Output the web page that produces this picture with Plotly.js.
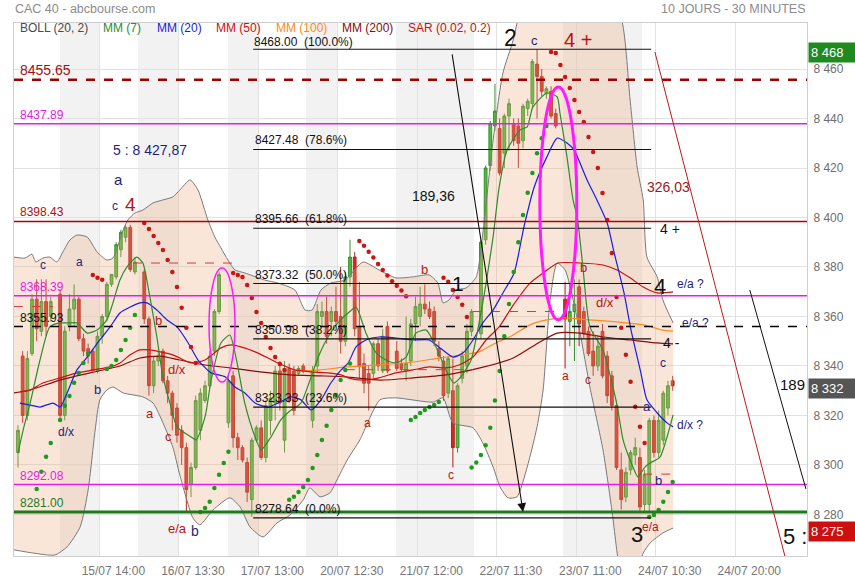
<!DOCTYPE html>
<html><head><meta charset="utf-8">
<script src="https://cdn.plot.ly/plotly-3.0.1.min.js"></script>
<style>html,body{margin:0;padding:0;background:#fff}#chart{width:855px;height:580px}</style>
</head><body><div id="chart"></div>
<script>
// ---------- DATA (30-minute slots, slot 0 = first visible bar) ----------
const open = [8305,8344,8320,8345,8367,8354,8366,8360,null,8369,
8320,8356,8363,8367,8351,8347,8346,8338,8352,8360,
8373,8376,8387,8392,8396,8378,null,8378,8359,8332,
8342,8346,8334,8329,8323,8314,8307,8292,8299,8314,
8326,8332,8346,8362,null,8317,8336,8311,8307,8301,
8286,8310,8315,8303,8318,8325,8338,8310,8339,8338,
8337,8340,null,8318,8340,8360,8362,8358,8362,8360,
8350,8376,8384,8356,8341,8337,8337,8349,8338,8356,
null,8346,8341,8338,8342,8357,8360,8365,8363,8362,
8347,8342,8329,8330,8307,8335,8340,8354,null,8353,
8391,8421,8437,8436,8426,8441,8438,8437,8431,8444,
8446,8462,8457,8450,8451,8442,null,8367,8358,8362,
8372,8362,8354,8346,8340,8354,8344,8336,8324,8298,
8287,8298,8304,8303,8284,8284,8318,8305,8310,8323,8334];
const high = [8316,8346,8346,8369,8375,8375,8375,8368,null,8371,
8356,8369,8373,8368,8353,8349,8347,8354,8361,8374,
8377,8390,8395,8397,8397,8384,null,8379,8360,8344,
8346,8347,8336,8330,8325,8316,8309,8301,8328,8331,
8334,8346,8363,8378,null,8337,8338,8313,8308,8303,
8311,8316,8318,8326,8330,8340,8342,8342,8341,8340,
8340,8341,null,8340,8365,8366,8368,8364,8372,8380,
8378,8391,8386,8374,8345,8340,8350,8351,8355,8358,
null,8350,8343,8360,8359,8368,8372,8373,8366,8364,
8350,8344,8344,8343,8333,8346,8357,8363,null,8391,
8421,8439,8454,8440,8442,8448,8440,8440,8446,8448,
8464,8468,8460,8453,8453,8444,null,8374,8373,8375,
8375,8364,8356,8354,8352,8357,8346,8338,8326,8305,
8299,8306,8311,8307,8298,8319,8320,8322,8330,8334,8336];
const low = [8299,8317,8318,8344,8350,8352,8352,8358,null,8318,
8318,8354,8356,8350,8344,8341,8338,8337,8349,8358,
8372,8375,8384,8390,8378,8377,null,8357,8328,8329,
8340,8333,8325,8314,8309,8300,8281,8287,8298,8310,
8325,8331,8344,8361,null,8315,8307,8302,8301,8285,
8279,8309,8302,8301,8312,8318,8322,8305,8325,8320,
8336,8337,null,8315,8337,8356,8349,8352,8356,8345,
8348,8372,8352,8335,8329,8322,8335,8338,8337,8337,
null,8338,8338,8334,8340,8350,8356,8361,8359,8348,
8342,8326,8327,8299,8305,8333,8337,8352,null,8351,
8389,8419,8435,8417,8420,8427,8429,8420,8428,8441,
8444,8440,8449,8448,8440,8436,null,8339,8348,8342,
8348,8351,8344,8336,8338,8335,8325,8322,8298,8282,
8285,8296,8300,8281,8281,8281,8303,8303,8308,8320,8330];
const close = [8314,8320,8343,8367,8355,8366,8356,8366,null,8320,
8354,8363,8367,8351,8346,8344,8338,8352,8360,8373,
8377,8389,8394,8396,8379,8382,null,8359,8332,8342,
8344,8334,8329,8320,8312,8307,8290,8299,8326,8329,
8332,8344,8362,8377,null,8334,8311,8307,8302,8289,
8310,8315,8303,8324,8327,8338,8325,8339,8326,8322,
8339,8338,null,8338,8362,8362,8352,8362,8358,8350,
8376,8384,8355,8340,8333,8333,8349,8340,8352,8338,
null,8339,8339,8341,8357,8364,8365,8363,8360,8350,
8344,8328,8343,8307,8332,8344,8354,8362,null,8390,
8420,8438,8443,8418,8441,8446,8431,8430,8445,8447,
8463,8457,8451,8452,8441,8437,null,8359,8362,8365,
8357,8353,8345,8340,8348,8336,8328,8324,8299,8286,
8297,8305,8307,8283,8296,8318,8305,8318,8329,8332,8332];

// x-axis time labels and their slot positions
const timeLabels = ['15/07 14:00','16/07 13:30','17/07 13:00','20/07 12:30','21/07 12:00','22/07 11:30','23/07 11:00','24/07 10:30','24/07 20:00'];
const timeSlots = [17.4,34.4,51.4,68.4,85.4,102.4,119.4,136.4,153.4];
const priceTicks = [8280,8300,8320,8340,8360,8380,8400,8420,8440,8460];

// Bollinger (20,2)
const bbUpK = [-0.9,1.5,3.0,3.8,5.3,6.8,8.3,9.6,11.1,12.6,14.8,16.9,19.0,20.3,22.5,23.5,25.0,26.7,28.9,31.0,33.1,34.6,36.8,38.5,40.6,42.1,43.4,44.9,46.4,48.5,52.8,55.6,59.2,61.4,62.9,64.8,66.9,69.9,73.8,77.2,80.8,84.5,87.9,89.8,90.9,92.2,93.7,95.8,98.0,99.4,101.6,103.7,105.9,108.4,112.7,119.1,124.5,129.2,130.9,132.4,133.7,134.5,136.7,137.9,140.1];
const bbUpV = [8384.0,8383.6,8385.2,8382.0,8383.6,8384.0,8382.0,8386.1,8390.9,8392.9,8392.1,8386.1,8382.8,8383.6,8395.0,8399.0,8401.8,8403.0,8405.9,8407.1,8408.3,8411.1,8415.2,8411.1,8399.0,8392.1,8387.7,8382.8,8378.8,8377.6,8374.7,8373.5,8370.7,8362.6,8362.6,8370.7,8373.5,8374.7,8382.0,8378.8,8375.6,8376.0,8376.8,8373.5,8365.5,8366.7,8370.7,8371.5,8376.0,8393.7,8431.3,8458.4,8471.7,8491.9,8508.1,8508.1,8500.0,8479.0,8447.5,8420.4,8407.1,8384.0,8376.0,8366.7,8357.4];
const bbLoK = [-0.9,3.2,7.9,10.5,13.3,15.0,16.5,17.5,19.0,20.3,22.5,26.7,28.9,31.0,33.1,34.6,37.4,38.9,41.7,45.3,47.5,49.6,52.4,55.4,58.2,61.0,62.4,64.6,66.7,68.2,70.4,73.1,77.4,80.8,88.8,90.9,93.0,97.3,99.4,101.6,103.1,104.8,106.7,108.9,111.0,112.3,113.8,115.3,117.0,118.1,120.2,122.3,125.1,127.0,128.7,130.9,133.7,135.2,137.9,140.1];
const bbLoV = [8265.7,8264.4,8263.6,8266.9,8275.0,8289.9,8314.1,8326.3,8330.3,8331.5,8329.1,8327.5,8325.0,8317.0,8307.3,8296.0,8278.6,8275.8,8281.8,8286.7,8283.0,8275.0,8270.9,8276.6,8279.8,8285.9,8290.7,8287.1,8288.7,8293.9,8302.0,8310.1,8326.3,8327.1,8325.4,8327.1,8317.0,8315.0,8308.9,8299.2,8291.1,8286.7,8287.1,8299.2,8315.4,8330.3,8366.7,8381.6,8378.8,8371.9,8353.3,8331.5,8306.1,8281.8,8257.6,8245.5,8264.4,8268.5,8272.5,8274.5];

// Moving averages
const mm7K = [0,1.1,2.6,4.7,6.8,9.0,10.7,12.6,14.8,16.9,19.0,20.3,21.8,23.3,25.4,26.7,28.2,29.7,31.0,32.5,34.0,37.0,38.1,40.0,41.3,43.4,45.3,46.6,48.5,50.7,52.0,54.1,56.2,58.4,60.5,62.7,64.2,66.3,68.4,70.6,72.3,74.4,76.6,78.7,80.8,83.0,85.1,87.3,89.4,91.5,93.2,94.7,96.9,98.6,100.1,101.6,102.9,104.6,107.4,108.9,110.1,113.1,115.3,115.9,117.4,118.7,119.6,120.8,122.3,125.1,126.6,128.1,129.4,130.9,132.6,134.1,135.2,137.3,138.8,140.1];
const mm7V = [8304.8,8314.1,8325.0,8342.4,8355.8,8357.4,8357.4,8357.4,8353.3,8354.5,8358.6,8365.5,8374.7,8380.0,8384.0,8381.6,8367.9,8351.7,8335.6,8325.0,8315.4,8311.3,8310.1,8319.4,8334.3,8349.3,8352.5,8343.6,8325.0,8311.3,8306.1,8311.3,8318.2,8322.2,8325.0,8335.6,8343.6,8351.7,8357.4,8361.4,8363.8,8353.3,8345.3,8342.4,8341.2,8343.6,8353.3,8354.5,8347.7,8338.4,8333.1,8335.6,8342.4,8357.4,8373.5,8392.1,8412.3,8427.3,8435.4,8436.6,8444.6,8450.3,8448.7,8442.2,8424.5,8407.1,8400.2,8380.0,8355.8,8346.5,8336.4,8324.2,8310.1,8302.0,8295.2,8299.2,8300.8,8303.2,8311.3,8320.2];
const mm20K = [0.4,2.6,4.7,7.5,9.0,10.5,12.6,14.8,17.5,19.7,21.8,24.0,26.1,27.6,29.7,31.9,34.0,36.4,38.5,41.3,44.3,46.4,48.5,50.7,53.5,55.6,58.4,60.5,62.7,64.8,66.9,69.1,70.6,72.3,74.4,77.2,80.8,84.5,87.9,90.0,93.0,95.2,97.3,99.4,101.6,103.7,106.1,108.2,110.4,113.1,115.3,117.4,118.9,121.7,123.8,126.0,127.5,129.6,131.1,133.2,134.5,136.7,138.8,140.1];
const mm20V = [8325.0,8324.2,8323.4,8325.0,8323.4,8329.1,8338.4,8343.6,8350.5,8355.8,8361.4,8363.8,8365.5,8365.5,8362.6,8358.6,8355.8,8349.3,8342.4,8337.2,8335.6,8331.5,8329.1,8325.0,8323.4,8325.0,8327.5,8326.3,8322.2,8326.3,8333.1,8338.4,8341.2,8347.7,8350.5,8351.7,8351.3,8350.5,8350.5,8347.7,8343.6,8345.3,8350.5,8357.4,8362.6,8369.5,8377.6,8396.2,8412.3,8424.5,8432.1,8430.1,8427.3,8415.2,8407.1,8397.8,8385.7,8369.5,8354.5,8337.2,8326.3,8321.0,8317.0,8315.4];
const mm50K = [0.4,2.6,5.3,9.0,12.6,16.0,19.7,21.8,24.0,26.1,28.2,30.4,33.1,34.6,37.0,40.0,43.4,45.6,47.7,50.7,53.5,55.6,59.2,62.7,66.3,69.1,70.6,73.8,77.2,80.8,84.5,87.9,91.5,94.3,97.3,100.1,102.9,105.9,109.5,112.3,115.5,120.2,125.1,128.1,130.9,133.7,136.7,140.1];
const mm50V = [8329.5,8330.3,8333.1,8335.2,8337.2,8338.4,8339.6,8341.2,8344.5,8346.5,8346.5,8345.7,8344.5,8343.2,8341.2,8342.4,8347.3,8348.5,8347.7,8345.7,8343.2,8341.2,8338.4,8337.6,8337.2,8336.4,8335.2,8334.3,8335.2,8337.2,8338.4,8339.6,8339.2,8340.4,8343.6,8350.5,8355.8,8364.6,8373.5,8377.6,8381.6,8381.6,8380.8,8378.8,8375.6,8371.9,8369.5,8369.9];
const mm100K = [60.5,64.6,70.1,77.2,84.5,90.0,95.2,98.6,102.2,105.9,109.5,113.1,116.6,122.3,128.1,133.7,137.9,140.1];
const mm100V = [8338.0,8338.4,8339.6,8340.4,8341.6,8343.2,8344.5,8345.7,8349.3,8352.5,8356.6,8358.6,8359.4,8358.6,8357.8,8356.6,8354.5,8354.1];
const mm200K = [-0.9,2.6,9.0,15.4,21.8,26.1,30.4,34.6,40.0,45.3,51.8,58.2,64.6,70.1,77.4,84.5,91.5,98.8,105.9,111.6,115.3,120.2,125.1,130.9,136.7,140.1];
const mm200V = [8329.1,8330.3,8334.3,8337.2,8340.0,8343.2,8344.0,8342.4,8340.4,8339.2,8337.6,8336.4,8336.0,8335.6,8334.3,8335.2,8336.4,8339.2,8343.2,8349.7,8353.3,8353.3,8351.7,8350.5,8349.3,8348.9];

// Parabolic SAR (0.02, 0.2)
const sarBelowK = [4,5,6,7, 9,10,11,12,13,14,15, 19,20,21,22,23,24,25, 39,40,41,42,43,44,45,
  58,59,60,61,62,63,64,65,66,67,68,69,70,71, 84,85,86,87,88,89,90,
  97,98,99,100,101,102,103,104,105,106,107,108,109,110,111,112,113, 135,136,137,138,139,140];
const sarBelowV = [8290.3,8297.2,8303.3,8308.9, 8318.2,8323.9,8327.9,8333.2,8337.2,8341.2,8344.9,
  8338.8,8340.0,8342.4,8346.5,8350.5,8355.4,8360.6, 8281.0,8282.6,8285.1,8290.7,8296.0,8300.8,8305.3,
  8285.9,8287.1,8289.1,8291.1,8293.9,8298.8,8304.0,8310.1,8315.8,8322.2,8328.3,8334.3,8338.4,8341.0,
  8318.2,8319.4,8321.0,8322.2,8323.4,8324.2,8325.4,
  8299,8301,8304,8308,8315,8326,8338,8352,8365,8378,8390,8401,8410,8418,8426,8432,8437,
  8279.0,8279.8,8281.8,8285.1,8289.1,8293.1];
const sarAboveK = [16,17,18, 27,28,29,30,31,32,33,34,35,36,37,38, 46,47,48,49,50,51,52,53,54,55,56,57,
  73,74,75,76,77,78,79,80,81,82,83, 91,92,93,94,95,96,
  114,115,116,117,118,119,120,121,122,123,124,125,126,127,128,129,130,131,132,133,134];
const sarAboveV = [8376.8,8375.6,8374.8, 8397.8,8395.4,8392.5,8389.7,8386.9,8382.8,8378.0,8371.9,8363.5,8355.4,8347.7,8341.2,
  8377.6,8376.8,8376.0,8372.7,8367.5,8361.8,8357.4,8351.7,8347.3,8343.6,8340.8,8338.4,
  8390.5,8388.6,8386.2,8383.8,8381.2,8378.8,8376.6,8374.2,8372.4,8370.5,8368.2,
  8375.6,8374.0,8370.7,8367.9,8364.7,8359.8,
  8466.9,8466.5,8461.6,8456.8,8452.3,8447.5,8442.6,8438.6,8432.5,8426.5,8420.0,8409.9,8399.0,8385.7,8367.9,8355.4,8344.5,8333.6,8323.5,8315.4,8308.9];

// Analyst levels
const levels = [8455.65, 8437.89, 8398.43, 8368.39, 8355.93, 8292.08, 8281.00];
const fibLevels = [8468.00, 8427.48, 8395.66, 8373.32, 8350.98, 8323.33, 8278.64];
const fibPct = ['100.0%','78.6%','61.8%','50.0%','38.2%','23.6%','0.0%'];
const fibFrom = 50.3, fibTo = 135.4;
// short dashed stop levels: [fromSlot, toSlot, price]
const stopLevels = [[-0.9,7.5,8364.0],[24.6,45.8,8381.6],[70.1,97.3,8338.5],[97.3,116.6,8362.0],[133.7,140.1,8296.3]];
// trend lines: [slot0, price0, slot1, price1]
const trendLines = [[136.2,8466.9,164.0,8263.2],[156.5,8370.7,168.5,8290.3]];
const arrowLine = [92.8,8466.5,108.0,8281.0];
// circled gaps: [slot0, slot1, priceLow, priceHigh]
const gapCircles = [[40.85,46.41,8333.5,8379.6],[111.6,119.5,8358.6,8452.7]];
// session shading [slot0, slot1]
const shade = [[8.98,17.4],[25.66,34.4],[44.9,51.4],[61.6,68.4],[80.84,97.52],[116.55,133.45]];
// right-side price flags
const flags = [[8468,'#1f8a1f'],[8332,'#555555'],[8275,'#cc1010']];
const flagY = [8466.8,8330.9,8273.3];

// ---------- CHART ----------
const FONT = 'Liberation Sans, Arial, sans-serif';
const NAVY = '#1f1f7a', RED = '#b81414';
const W = 855, H = 580, ML = 14, MR = 48, MT = 23, MB = 24;
const PX0 = ML, PX1 = W - MR, PY0 = MT, PY1 = H - MB;
const px = x => (x - PX0) / (PX1 - PX0);
const py = y => (PY1 - y) / (PY1 - PY0);

const idx = [], o = [], h = [], l = [], c = [];
open.forEach((v, i) => { if (v !== null) { idx.push(i); o.push(v); h.push(high[i]); l.push(low[i]); c.push(close[i]); } });

const traces = [
  {type:'scatter', mode:'lines', x:bbLoK, y:bbLoV, line:{color:'#7a7a7a', width:1, shape:'spline', smoothing:0.6}, hoverinfo:'skip'},
  {type:'scatter', mode:'lines', x:bbUpK, y:bbUpV, fill:'tonexty', fillcolor:'rgba(236,172,130,0.30)', line:{color:'#7a7a7a', width:1, shape:'spline', smoothing:0.6}, hoverinfo:'skip'},
  {type:'candlestick', x:idx, open:o, high:h, low:l, close:c, whiskerwidth:0,
    increasing:{line:{color:'#3a8f2c', width:1}, fillcolor:'#4cbf3c'},
    decreasing:{line:{color:'#b3221a', width:1}, fillcolor:'#d02c24'}, hoverinfo:'skip'},
  {type:'scatter', mode:'lines', x:mm200K, y:mm200V, line:{color:'#8b0a0a', width:1.2, shape:'spline', smoothing:0.6}},
  {type:'scatter', mode:'lines', x:mm100K, y:mm100V, line:{color:'#ff8a1a', width:1.2, shape:'spline', smoothing:0.6}},
  {type:'scatter', mode:'lines', x:mm50K, y:mm50V, line:{color:'#cc1111', width:1.2, shape:'spline', smoothing:0.6}},
  {type:'scatter', mode:'lines', x:mm20K, y:mm20V, line:{color:'#1c1ce0', width:1.2, shape:'spline', smoothing:0.6}},
  {type:'scatter', mode:'lines', x:mm7K, y:mm7V, line:{color:'#2e8b2e', width:1.2, shape:'spline', smoothing:0.6}},
  {type:'scatter', mode:'markers', x:sarBelowK, y:sarBelowV, marker:{color:'#1f9a1f', size:4.5}},
  {type:'scatter', mode:'markers', x:sarAboveK, y:sarAboveV, marker:{color:'#cc1414', size:4.5}}
];

const shapes = [];
shade.forEach(s => shapes.push({type:'rect', xref:'x', yref:'paper', x0:s[0], x1:s[1], y0:0, y1:1, fillcolor:'#f2f2f2', line:{width:0}, layer:'below'}));
const lvlStyle = [['#a00000',2.5,'dash'],['#e41ee4',1.5,'solid'],['#b00000',1.5,'solid'],['#e41ee4',1.5,'solid'],['#000000',1.5,'dash'],['#e41ee4',1.5,'solid'],['#1e7a1e',3,'solid']];
levels.forEach((v,i) => shapes.push({type:'line', xref:'paper', yref:'y', x0:0, x1:1, y0:v, y1:v, line:{color:lvlStyle[i][0], width:lvlStyle[i][1], dash:lvlStyle[i][2]}}));
fibLevels.forEach(v => shapes.push({type:'line', xref:'x', yref:'y', x0:fibFrom, x1:fibTo, y0:v, y1:v, line:{color:'#111', width:1.2}}));
stopLevels.forEach(s => shapes.push({type:'line', xref:'x', yref:'y', x0:s[0], x1:s[1], y0:s[2], y1:s[2], line:{color:'#d03a3a', width:1, dash:'dash'}}));
shapes.push({type:'line', xref:'x', yref:'y', x0:trendLines[0][0], y0:trendLines[0][1], x1:trendLines[0][2], y1:trendLines[0][3], line:{color:'#c01818', width:1}});
shapes.push({type:'line', xref:'x', yref:'y', x0:trendLines[1][0], y0:trendLines[1][1], x1:trendLines[1][2], y1:trendLines[1][3], line:{color:'#111', width:1}});
gapCircles.forEach((g,i) => shapes.push({type:'circle', xref:'x', yref:'y', x0:g[0], x1:g[1], y0:g[2], y1:g[3], line:{color:'#ff1aff', width: i ? 3 : 1.5}}));

const annotations = [];
function T(text, x, y, size, color, anchor) {
  annotations.push({text, x:px(x), y:py(y), xref:'paper', yref:'paper', showarrow:false, borderpad:0,
    font:{size, color, family:FONT}, xanchor:anchor || 'center', yanchor:'middle'});
}
T('CAC 40 - abcbourse.com', 14, 9, 12.5, '#8c8c8c', 'left');
T('10 JOURS - 30 MINUTES', 806, 9, 12.5, '#8c8c8c', 'right');
T('BOLL (20, 2)', 19, 28.5, 12, '#4a4a4a', 'left');
T('MM (7)', 102, 28.5, 12, '#2e8b2e', 'left');
T('MM (20)', 156, 28.5, 12, '#1c1ce0', 'left');
T('MM (50)', 215, 28.5, 12, '#cc1111', 'left');
T('MM (100)', 275, 28.5, 12, '#ff8a1a', 'left');
T('MM (200)', 341, 28.5, 12, '#8b0a0a', 'left');
T('SAR (0.02, 0.2)', 407, 28.5, 12, '#cc1111', 'left');

const lvlLabelColor = ['#a01010','#e41ee4','#b01010','#e41ee4','#111111','#e41ee4','#1e7a1e'];
levels.forEach((v,i) => annotations.push({text:v.toFixed(2), x:px(18), xref:'paper', y:v, yref:'y', yanchor:'bottom', xanchor:'left', yshift:0, showarrow:false, font:{size: i===0 ? 14 : 12, color:lvlLabelColor[i], family:FONT}}));
fibLevels.forEach((v,i) => annotations.push({text:v.toFixed(2) + '\u00a0\u00a0(' + fibPct[i] + ')', x:fibFrom, xref:'x', y:v, yref:'y', yanchor:'bottom', xanchor:'left', showarrow:false, borderpad: i === 0 ? 0 : 1, yshift: i === 0 ? -1 : 0, font:{size:12, color:'#111', family:FONT}}));

T('5 : 8 427,87', 112, 150, 14, NAVY, 'left');
T('a', 119, 179, 15, NAVY);
T('c', 115, 206, 12, NAVY);
T('4', 130, 204, 19, RED);
T('c', 43, 265, 12, NAVY);
T('a', 79, 262, 12, NAVY);
T('b', 97, 389, 13, NAVY);
T('d/x', 66, 432, 12, NAVY);
T('b', 158, 320, 13, RED);
T('a', 150, 413, 13, RED);
T('c', 168, 436, 13, RED);
T('d/x', 177, 370, 13, RED);
T('e/a', 177, 528, 13, RED);
T('b', 195, 531, 14, NAVY);
T('a', 367, 423, 12, RED);
T('b', 424, 269, 13, RED);
T('1', 458, 283, 21, '#111');
T('c', 451, 475, 12, RED);
T('189,36', 433, 196, 14, '#111');
T('2', 510, 38, 23, '#111');
T('c', 534, 40, 13, NAVY);
T('4 +', 578, 40, 20, RED);
T('326,03', 668, 187, 14, '#a01818');
T('4 +', 670, 229, 14, '#111');
T('4', 660, 286, 22, '#111');
T('e/a ?', 690, 284, 12, NAVY);
T('e/a ?', 695, 323, 12, NAVY);
T('4 -', 671, 343, 14, '#111');
T('b', 583, 267, 13, RED);
T('d/x', 605, 302, 13, RED);
T('a', 565, 376, 12, RED);
T('c', 588, 380, 12, RED);
T('c', 663, 363, 12, NAVY);
T('a', 647, 406, 13, NAVY);
T('d/x ?', 690, 425, 12, NAVY);
T('b', 658, 480, 13, NAVY);
T('3', 637, 534, 22, '#111');
T('e/a', 650, 527, 12, RED);
T('189', 806, 384, 15, '#111', 'right');
T('5 :', 795, 536, 22, '#111');

annotations.push({x:arrowLine[2], y:arrowLine[3], ax:arrowLine[0], ay:arrowLine[1], xref:'x', yref:'y', axref:'x', ayref:'y',
  text:'', showarrow:true, arrowhead:2, arrowsize:1.6, arrowwidth:1.1, arrowcolor:'#111', standoff:0});

flags.forEach((f,i) => annotations.push({text: String(f[0]).replace(/^(\d)(\d{3})$/, '$1 $2'), x:1, xref:'paper', xanchor:'left', xshift:1,
  y:flagY[i], yref:'y', yanchor:'middle', showarrow:false, bgcolor:f[1], borderpad:2, width:43, align:'left',
  font:{size:13, color:'#fff', family:FONT}}));

const layout = {
  width:W, height:H, margin:{l:ML, r:MR, t:MT, b:MB, pad:0},
  paper_bgcolor:'#fff', plot_bgcolor:'#fff', showlegend:false, hovermode:false,
  boxgap:0.15,
  font:{family:FONT},
  xaxis:{type:'linear', range:[-0.855, 168.73], tickvals:timeSlots, ticktext:timeLabels, ticklabelshift:14, ticklabelstandoff:4,
    tickfont:{size:12, color:'#777'}, gridcolor:'#e2e2e2', showline:true, mirror:true, linecolor:'#cfcfcf',
    zeroline:false, ticks:'', rangeslider:{visible:false}, fixedrange:true},
  yaxis:{range:[8263.2, 8478.6], side:'right', tickvals:priceTicks, ticktext:priceTicks.map(v => String(v).replace(/^(\d)(\d{3})$/, '$1 $2')),
    tickfont:{size:12, color:'#6e6e6e'}, gridcolor:'#e2e2e2', showline:true, mirror:true, linecolor:'#cfcfcf',
    zeroline:false, ticks:'', ticklabelstandoff:3, fixedrange:true},
  shapes, annotations
};
Plotly.newPlot('chart', traces, layout, {staticPlot:true, displayModeBar:false});
</script>
</body></html>
